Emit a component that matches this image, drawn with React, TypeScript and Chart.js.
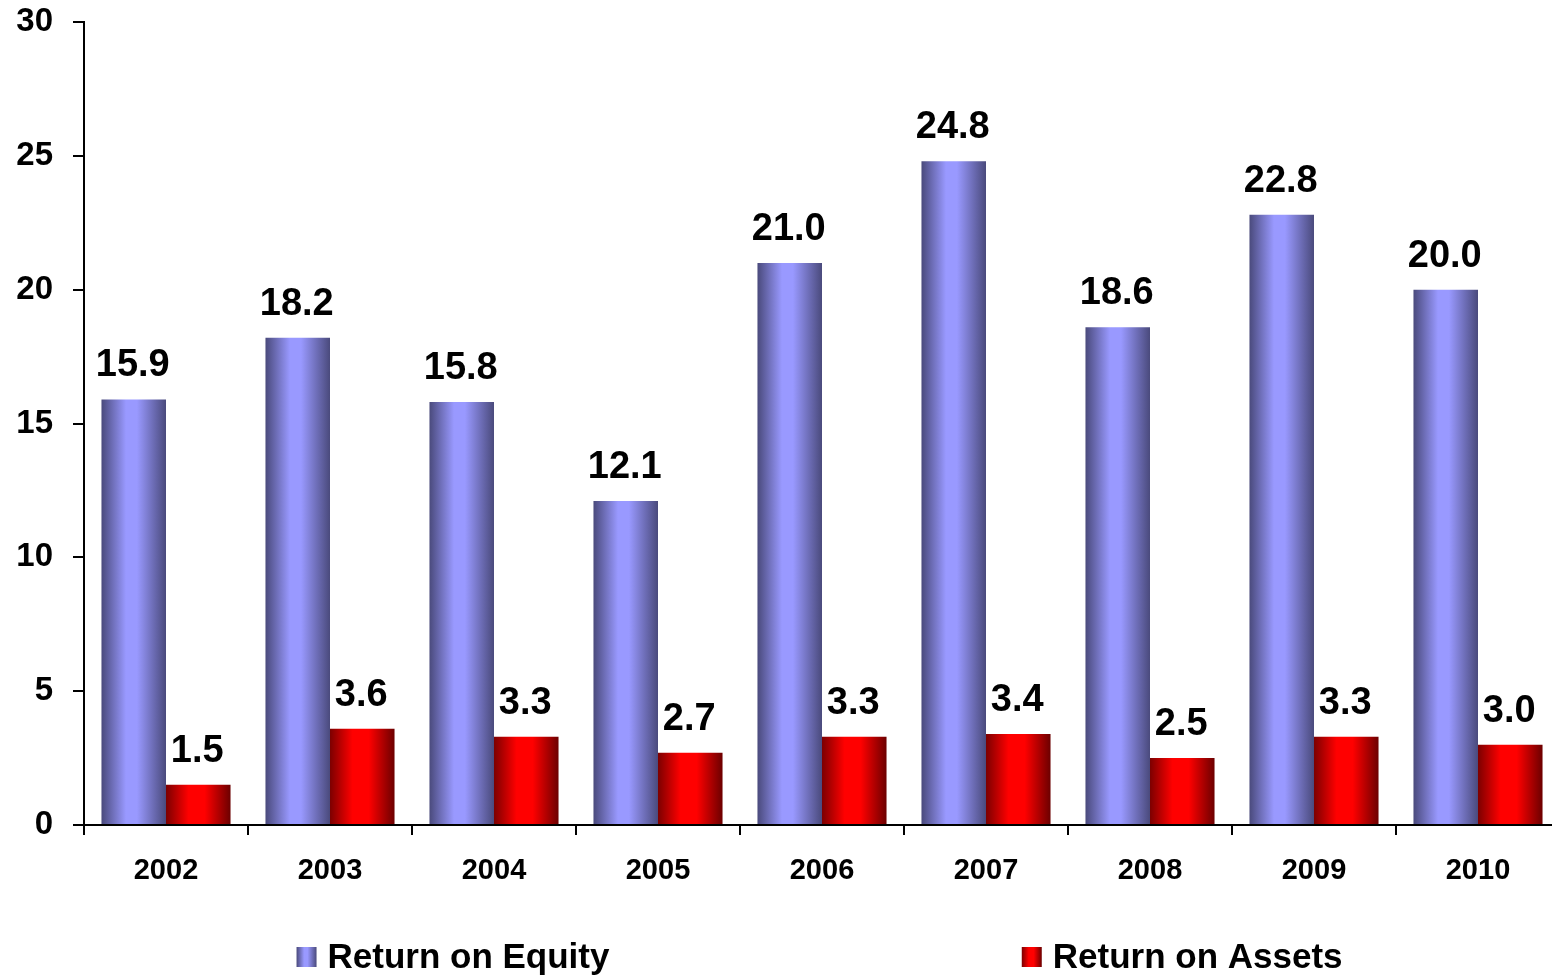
import React, { useEffect, useRef } from "react";
import { Chart, registerables } from "chart.js";

Chart.register(...registerables);

const years = ["2002", "2003", "2004", "2005", "2006", "2007", "2008", "2009", "2010"];
const returnOnEquity = [15.9, 18.2, 15.8, 12.1, 21.0, 24.8, 18.6, 22.8, 20.0];
const returnOnAssets = [1.5, 3.6, 3.3, 2.7, 3.3, 3.4, 2.5, 3.3, 3.0];
const seriesNames = ["Return on Equity", "Return on Assets"];
const yMin = 0;
const yMax = 30;
const yStep = 5;

const FONT = '"Liberation Sans", Arial, Helvetica, sans-serif';
const CAT_PCT = 0.787;

const blueStops: [number, string][] = [
  [0, "#4a4a7c"],
  [0.38, "#9999ff"],
  [0.55, "#9999ff"],
  [1, "#4a4a7c"],
];
const redStops: [number, string][] = [
  [0, "#7c0000"],
  [0.35, "#ff0000"],
  [0.6, "#ff0000"],
  [1, "#6c0000"],
];
const stopsList = [blueStops, redStops];

function grad(ctx: CanvasRenderingContext2D, x0: number, x1: number, stops: [number, string][]) {
  const g = ctx.createLinearGradient(x0, 0, x1, 0);
  stops.forEach(([o, c]) => g.addColorStop(o, c));
  return g;
}

function barFill(dsIndex: number) {
  return (c: any) => {
    const chart = c.chart;
    const area = chart.chartArea;
    const xs = chart.scales?.x;
    if (!area || !xs || c.dataIndex === undefined) return stopsList[dsIndex][1][1];
    const center = xs.getPixelForValue(c.dataIndex);
    const catW = (area.right - area.left) / years.length;
    const half = (catW * CAT_PCT) / 2;
    return dsIndex === 0
      ? grad(chart.ctx, center - half, center, blueStops)
      : grad(chart.ctx, center, center + half, redStops);
  };
}

const valueLabels = {
  id: "valueLabels",
  afterDatasetsDraw(chart: any) {
    const ctx = chart.ctx as CanvasRenderingContext2D;
    ctx.save();
    ctx.font = `bold 38px ${FONT}`;
    ctx.fillStyle = "#000";
    ctx.textAlign = "center";
    ctx.textBaseline = "alphabetic";
    chart.data.datasets.forEach((ds: any, i: number) => {
      chart.getDatasetMeta(i).data.forEach((bar: any, j: number) => {
        ctx.fillText(Number(ds.data[j]).toFixed(1), bar.x - 1, bar.y - 23);
      });
    });
    ctx.restore();
  },
};

const legendFractions = [0.25, 0.744];

const customLegend = {
  id: "customLegend",
  afterDraw(chart: any) {
    const ctx = chart.ctx as CanvasRenderingContext2D;
    const area = chart.chartArea;
    const y = 957;
    const box = 20;
    const gap = 11;
    ctx.save();
    ctx.font = `bold 35px ${FONT}`;
    ctx.textBaseline = "middle";
    ctx.textAlign = "left";
    seriesNames.forEach((name, i) => {
      const tw = ctx.measureText(name).width;
      const w = box + gap + tw;
      const cx = area.left + (area.right - area.left) * legendFractions[i];
      const left = cx - w / 2;
      ctx.fillStyle = grad(ctx, left, left + box, stopsList[i]);
      ctx.fillRect(left, y - box / 2, box, box);
      ctx.fillStyle = "#000";
      ctx.fillText(name, left + box + gap, y + 1);
    });
    ctx.restore();
  },
};

export default function App() {
  const ref = useRef<HTMLCanvasElement | null>(null);
  useEffect(() => {
    document.body.style.margin = "0";
    if (!ref.current) return;
    const chart = new Chart(ref.current, {
      type: "bar",
      data: {
        labels: years,
        datasets: [
          {
            label: seriesNames[0],
            data: returnOnEquity,
            backgroundColor: barFill(0),
            borderWidth: 0,
            categoryPercentage: CAT_PCT,
            barPercentage: 1,
          },
          {
            label: seriesNames[1],
            data: returnOnAssets,
            backgroundColor: barFill(1),
            borderWidth: 0,
            categoryPercentage: CAT_PCT,
            barPercentage: 1,
          },
        ],
      },
      options: {
        responsive: false,
        animation: false,
        layout: { padding: { top: 22, left: 0, right: 0, bottom: 0 } },
        plugins: {
          legend: { display: false },
          tooltip: { enabled: false },
          title: { display: false },
        },
        scales: {
          x: {
            offset: true,
            grid: {
              display: true,
              offset: true,
              drawOnChartArea: false,
              drawTicks: true,
              tickLength: 10,
              color: "#000",
              lineWidth: 2,
            },
            border: { display: true, color: "#000", width: 2 },
            ticks: {
              color: "#000",
              font: { family: FONT, size: 29, weight: "bold" },
              padding: 19,
              maxRotation: 0,
              autoSkip: false,
            },
            afterFit: (s: any) => {
              s.height = 152;
              s.paddingLeft = 0;
              s.paddingRight = 0;
            },
          },
          y: {
            min: yMin,
            max: yMax,
            grid: {
              display: true,
              drawOnChartArea: false,
              drawTicks: true,
              tickLength: 11,
              color: "#000",
              lineWidth: 2,
            },
            border: { display: true, color: "#000", width: 2 },
            ticks: {
              stepSize: yStep,
              color: "#000",
              font: { family: FONT, size: 33, weight: "bold" },
              padding: 20,
            },
            afterFit: (s: any) => {
              s.width = 84;
              s.paddingTop = 0;
              s.paddingBottom = 0;
            },
          },
        },
      },
      plugins: [valueLabels, customLegend],
    });
    return () => chart.destroy();
  }, []);
  return (
    <div style={{ width: 1552, height: 977, overflow: "hidden", background: "#fff" }}>
      <canvas ref={ref} width={1560} height={977} style={{ display: "block" }} />
    </div>
  );
}
